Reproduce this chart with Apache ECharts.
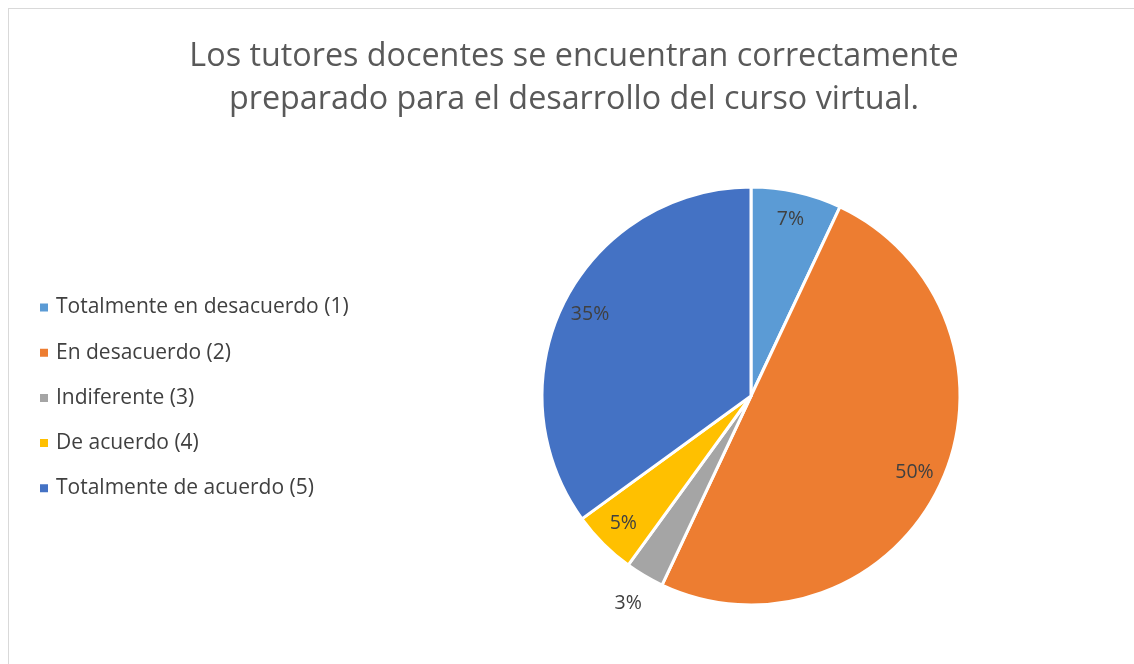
<!DOCTYPE html>
<html>
<head>
    <meta charset="UTF-8">
    <title>Tutores docentes</title>
    <script src="https://cdn.jsdelivr.net/npm/echarts@6/dist/echarts.min.js"></script>
    <style>
        html, body { margin: 0; padding: 0; background: #fff; }
        #frame {
            position: absolute;
            left: 8px; top: 8px;
            width: 1140px; height: 670px;
            border: 1px solid #d9d9d9;
        }
        #pie { position: absolute; left: 0; top: 0; width: 1134px; height: 664px; }
    </style>
</head>
<body>
    <div id="frame"></div>
    <div id="pie"></div>
    <script>
        var titleText = 'Los tutores docentes se encuentran correctamente\npreparado para el desarrollo del curso virtual.';
        var categories = ['Totalmente en desacuerdo (1)', 'En desacuerdo (2)', 'Indiferente (3)', 'De acuerdo (4)', 'Totalmente de acuerdo (5)'];
        var values = [7, 50, 3, 5, 35];
        var colors = ['#5B9BD5', '#ED7D31', '#A5A5A5', '#FFC000', '#4472C4'];
        // slices whose label sits outside the pie
        var outsideLabels = ['Indiferente (3)'];

        var center = [751, 396];
        var R = 209;
        var labelFont = { fontSize: 19.5, color: '#404040', fontFamily: 'Open Sans' };

        var chart = echarts.init(document.getElementById('pie'), null, {renderer: 'canvas'});

        function pieData(filter) {
            return categories.map(function (c, i) {
                return { name: c, value: values[i], label: { show: filter(c) } };
            });
        }

        var option = {
            color: colors,
            animation: false,
            title: {
                text: titleText,
                left: 569,
                textAlign: 'center',
                top: 30,
                textStyle: { fontSize: 32.3, fontWeight: 'normal', color: '#595959', fontFamily: 'Open Sans', lineHeight: 43 }
            },
            legend: {
                orient: 'vertical',
                left: 33,
                top: 292,
                itemGap: 24.2,
                itemWidth: 10,
                itemHeight: 10,
                icon: 'rect',
                textStyle: { fontSize: 21, color: '#404040', fontFamily: 'Open Sans', padding: [0, 0, 0, 2] },
                data: categories
            },
            series: [
                {
                    type: 'pie',
                    center: center,
                    radius: R,
                    startAngle: 90,
                    clockwise: true,
                    silent: true,
                    itemStyle: { borderColor: '#fff', borderWidth: 3 },
                    label: { show: false },
                    labelLine: { show: false },
                    data: categories.map(function (c, i) { return { name: c, value: values[i] }; })
                },
                {
                    // label ring inside the pie
                    type: 'pie',
                    center: center,
                    radius: [R * 0.7, R],
                    startAngle: 90,
                    silent: true,
                    legendHoverLink: false,
                    itemStyle: { color: 'rgba(0,0,0,0)' },
                    label: Object.assign({ position: 'inside', formatter: '{d}%' }, labelFont),
                    labelLine: { show: false },
                    data: pieData(function (c) { return outsideLabels.indexOf(c) < 0; })
                },
                {
                    // label ring outside the pie
                    type: 'pie',
                    center: center,
                    radius: [R, R * 1.28],
                    startAngle: 90,
                    silent: true,
                    legendHoverLink: false,
                    itemStyle: { color: 'rgba(0,0,0,0)' },
                    label: Object.assign({ position: 'inside', formatter: '{d}%' }, labelFont),
                    labelLine: { show: false },
                    data: pieData(function (c) { return outsideLabels.indexOf(c) >= 0; })
                }
            ]
        };
        chart.setOption(option);
    </script>
</body>
</html>
